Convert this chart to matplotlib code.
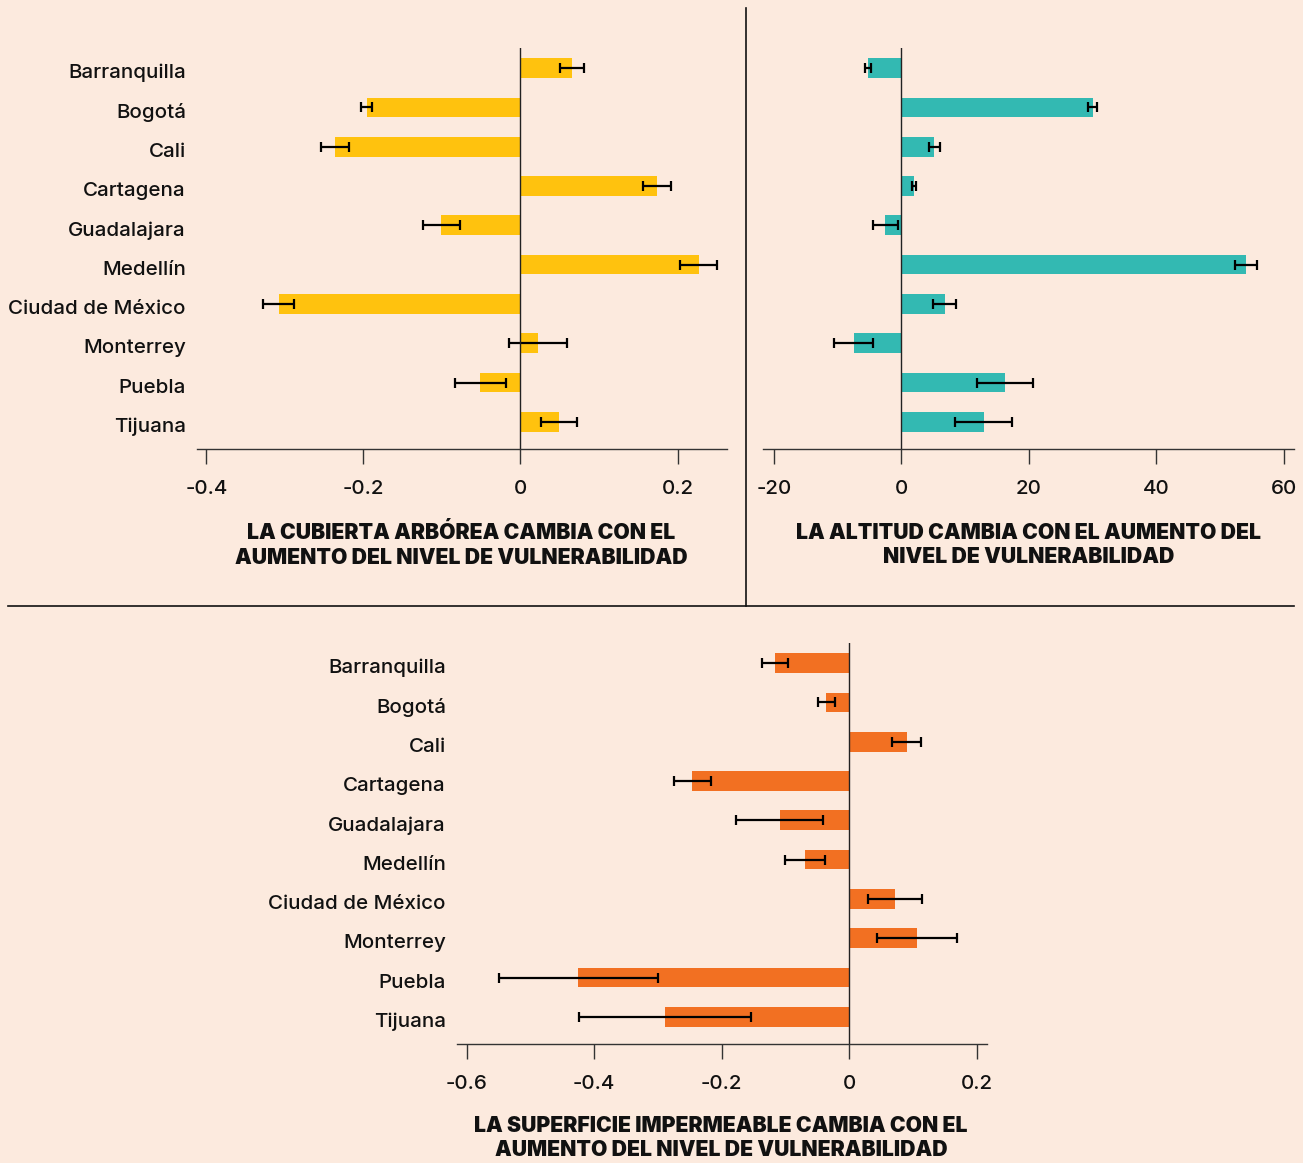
import matplotlib
matplotlib.use('Agg')
import matplotlib.pyplot as plt
import matplotlib.transforms as mtransforms
from matplotlib.ticker import FuncFormatter

plt.rcParams['font.family'] = ['Inter', 'DejaVu Sans']
plt.rcParams['axes.unicode_minus'] = False

cities = ['Barranquilla', 'Bogotá', 'Cali', 'Cartagena', 'Guadalajara',
          'Medellín', 'Ciudad de México', 'Monterrey', 'Puebla', 'Tijuana']

tree_vals = [0.066, -0.196, -0.236, 0.174, -0.101, 0.227, -0.308, 0.022, -0.051, 0.049]
tree_err = [0.0155, 0.0075, 0.018, 0.018, 0.0235, 0.0235, 0.0195, 0.037, 0.033, 0.0225]

alt_vals = [-5.2, 30.0, 5.2, 2.0, -2.5, 54.1, 6.8, -7.5, 16.2, 12.9]
alt_err = [0.45, 0.75, 0.8, 0.25, 2.0, 1.7, 1.8, 3.0, 4.4, 4.45]

imp_vals = [-0.116, -0.036, 0.090, -0.246, -0.109, -0.069, 0.072, 0.106, -0.425, -0.289]
imp_err = [0.02, 0.013, 0.023, 0.0295, 0.0685, 0.0315, 0.042, 0.063, 0.1245, 0.1345]

tree_ticks = [-0.4, -0.2, 0, 0.2]
alt_ticks = [-20, 0, 20, 40, 60]
imp_ticks = [-0.6, -0.4, -0.2, 0, 0.2]

titles = ['LA CUBIERTA ARBÓREA CAMBIA CON EL\nAUMENTO DEL NIVEL DE VULNERABILIDAD',
          'LA ALTITUD CAMBIA CON EL AUMENTO DEL\nNIVEL DE VULNERABILIDAD',
          'LA SUPERFICIE IMPERMEABLE CAMBIA CON EL\nAUMENTO DEL NIVEL DE VULNERABILIDAD']

bg = '#fceade'
W, H = 1303, 1163
fig = plt.figure(figsize=(W / 100, H / 100), dpi=100, facecolor=bg)


def box(l, t, r, b):
    return [l / W, 1 - b / H, (r - l) / W, (b - t) / H]


def panel(rect, vals, err, color, ticks, xlim, labels):
    ax = fig.add_axes(rect)
    ax.set_facecolor(bg)
    y = list(range(len(cities)))
    ax.barh(y, vals, height=0.5, color=color, zorder=2)
    ax.errorbar(vals, y, xerr=err, fmt='none', ecolor='black', elinewidth=1.6,
                capsize=3.5, capthick=1.6, zorder=3)
    ax.axvline(0, color='#222222', lw=1, zorder=4)
    ax.set_xlim(*xlim)
    ax.set_ylim(9.69, -0.51)
    ax.set_xticks(ticks)
    ax.xaxis.set_major_formatter(FuncFormatter(lambda v, p: f'{v:g}'))
    for s in ['left', 'top', 'right']:
        ax.spines[s].set_visible(False)
    ax.spines['bottom'].set_color('#333333')
    ax.spines['bottom'].set_linewidth(1)
    ax.tick_params(axis='x', length=11, width=1, color='#333333', pad=11,
                   labelsize=14.8, labelcolor='#111111')
    ax.tick_params(axis='y', length=0, pad=8, labelsize=14.8, labelcolor='#111111')
    for lab in ax.get_xticklabels():
        lab.set_fontweight('medium')
    if labels:
        ax.set_yticks(y)
        ax.set_yticklabels(cities, fontweight='medium')
        shift = mtransforms.ScaledTranslation(0, -0.03, fig.dpi_scale_trans)
        for lab in ax.get_yticklabels():
            lab.set_transform(lab.get_transform() + shift)
    else:
        ax.set_yticks([])
    return ax


panel(box(197, 48, 727, 449), tree_vals, tree_err, '#ffc20e', tree_ticks, (-0.412, 0.263), True)
panel(box(763, 48, 1294, 449), alt_vals, alt_err, '#33b9b2', alt_ticks, (-21.7, 61.6), False)
panel(box(457, 643, 987, 1044), imp_vals, imp_err, '#f27022', imp_ticks, (-0.615, 0.216), True)

for x, yy, t in [(461, 545, titles[0]), (1029, 545, titles[1]), (721, 1138, titles[2])]:
    fig.text(x / W, 1 - yy / H, t, ha='center', va='center', fontsize=15.2,
             fontweight='black', linespacing=1.3, color='#111111')

# divider lines
fig.add_artist(plt.Line2D([746 / W, 746 / W], [1 - 8 / H, 1 - 606 / H], color='#111111', lw=1.2))
fig.add_artist(plt.Line2D([8 / W, 1294 / W], [1 - 606 / H, 1 - 606 / H], color='#111111', lw=1.2))

fig.savefig('out.png', dpi=100, facecolor=bg)
